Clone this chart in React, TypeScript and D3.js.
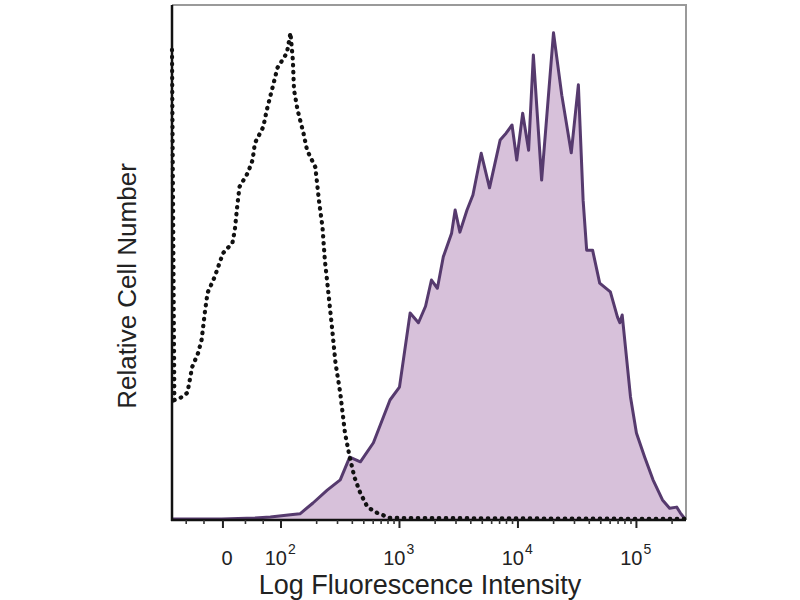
import React, { useRef, useEffect } from 'react';
import * as d3 from 'd3';

// x values are in log10 fluorescence channel units (biexponential display, "0" sits at ~1.51)
// y values are relative cell number, 0-100
const stainedX = [
  1.08, 1.5, 1.78, 1.91, 2.08, 2.16, 2.27, 2.39, 2.5, 2.58, 2.67, 2.78, 2.92, 3.0,
  3.09, 3.16, 3.22, 3.27, 3.32, 3.37, 3.44, 3.47, 3.51, 3.57, 3.62, 3.69, 3.76,
  3.85, 3.9, 3.95, 3.99, 4.04, 4.09, 4.13, 4.2, 4.3, 4.37, 4.45, 4.51, 4.55, 4.58,
  4.63, 4.69, 4.78, 4.84, 4.86, 4.88, 4.95, 5.0, 5.07, 5.14, 5.22, 5.28, 5.34,
  5.37, 5.41,
];
const stainedY = [
  0.2, 0.2, 0.4, 0.6, 1.0, 1.2, 3.3, 5.8, 7.8, 12.2, 11.3, 15.0, 23.3, 25.8,
  40.2, 38.3, 41.5, 46.6, 45.0, 51.1, 55.7, 60.2, 55.9, 60.2, 63.1, 71.2, 64.5,
  73.8, 75.1, 76.7, 69.9, 79.0, 71.8, 90.3, 66.0, 94.6, 82.5, 71.3, 84.5, 62.1, 52.4,
  52.4, 46.0, 44.3, 39.4, 38.3, 39.8, 23.9, 16.9, 12.2, 7.8, 3.9, 2.3, 2.5,
  1.4, 0.2,
];

const isotypeX = [
  1.08, 1.1, 1.15, 1.21, 1.25, 1.3, 1.33, 1.36, 1.38, 1.44, 1.51, 1.59, 1.61,
  1.63, 1.65, 1.72, 1.76, 1.78, 1.85, 1.88, 1.93, 1.97, 2.05, 2.08, 2.1, 2.11,
  2.14, 2.19, 2.22, 2.29, 2.32, 2.35, 2.37, 2.4, 2.43, 2.46, 2.5, 2.54, 2.58,
  2.62, 2.67, 2.73, 2.81, 2.92, 5.41,
];
const isotypeY = [
  91.3, 23.3, 23.7, 24.7, 29.7, 32.4, 35.0, 40.8, 44.1, 47.2, 51.8, 53.8, 56.3,
  60.8, 64.7, 67.4, 69.9, 73.2, 76.3, 79.6, 84.1, 87.8, 90.7, 94.6, 89.3, 83.5,
  79.6, 75.1, 71.8, 68.5, 62.1, 56.9, 50.5, 44.1, 37.5, 30.5, 24.7, 16.9, 12.2,
  8.3, 5.2, 2.5, 1.4, 0.4, 0.2,
];

const majorTicks = [1.51, 2, 3, 4, 5];
const tickBase = ['0', '10', '10', '10', '10'];
const tickExp = ['', '2', '3', '4', '5'];

const xTitle = 'Log Fluorescence Intensity';
const yTitle = 'Relative Cell Number';

const W = 800;
const H = 600;
const left = 172;
const right = 685;
const top = 5;
const bottom = 520;
const font = '"Liberation Sans", Arial, sans-serif';

export default function App() {
  const ref = useRef<SVGSVGElement>(null);

  useEffect(() => {
    if (!ref.current) return;
    draw(ref.current);
  }, []);

  return (
    <svg
      ref={ref}
      width={W}
      height={H}
      style={{ position: 'absolute', left: 0, top: 0, background: '#fff' }}
    />
  );
}

function draw(el: SVGSVGElement) {
  const svg = d3.select(el);
  svg.selectAll('*').remove();

  const x = d3.scaleLinear().domain([1.08, 5.41]).range([left, right]);
  const y = d3.scaleLinear().domain([0, 100]).range([bottom, top]);

  const stained = stainedX.map((v, i) => [v, stainedY[i]] as [number, number]);
  const isotype = isotypeX.map((v, i) => [v, isotypeY[i]] as [number, number]);

  // frame (light grey top / right)
  svg.append('path')
    .attr('d', `M${left},${top}H${right + 1}V${bottom}`)
    .attr('fill', 'none')
    .attr('stroke', '#9a9a9a')
    .attr('stroke-width', 2);

  // stained histogram
  const area = d3.area<[number, number]>()
    .x((d) => x(d[0]))
    .y0(y(0))
    .y1((d) => y(d[1]));
  svg.append('path')
    .datum(stained)
    .attr('d', area)
    .attr('fill', '#d7c1da');

  const line = d3.line<[number, number]>()
    .x((d) => x(d[0]))
    .y((d) => y(d[1]));
  svg.append('path')
    .datum(stained)
    .attr('d', line)
    .attr('fill', 'none')
    .attr('stroke', '#563a6e')
    .attr('stroke-width', 3)
    .attr('stroke-linejoin', 'round');

  // axes
  svg.append('line')
    .attr('x1', left).attr('x2', left)
    .attr('y1', top).attr('y2', bottom + 1)
    .attr('stroke', '#111').attr('stroke-width', 2.5);
  svg.append('line')
    .attr('x1', left - 1).attr('x2', right + 1)
    .attr('y1', bottom).attr('y2', bottom)
    .attr('stroke', '#111').attr('stroke-width', 2.5);

  // isotype control (dotted)
  svg.append('path')
    .datum(isotype)
    .attr('d', line)
    .attr('fill', 'none')
    .attr('stroke', '#111')
    .attr('stroke-width', 4.2)
    .attr('stroke-linecap', 'round')
    .attr('stroke-dasharray', '0.5 6.5');

  // minor ticks
  const minor: number[] = [];
  for (let dec = 2; dec <= 5; dec++) {
    for (let k = 2; k <= 9; k++) {
      const v = dec + Math.log10(k);
      if (v < x.domain()[1]) minor.push(v);
    }
  }
  minor.push(1.2, 1.35, 1.7, 1.85);
  svg.append('g')
    .selectAll('line')
    .data(minor)
    .join('line')
    .attr('x1', (d) => x(d)).attr('x2', (d) => x(d))
    .attr('y1', bottom).attr('y2', bottom + 4)
    .attr('stroke', '#333').attr('stroke-width', 1.6);

  svg.append('g')
    .selectAll('line')
    .data(majorTicks)
    .join('line')
    .attr('x1', (d) => x(d)).attr('x2', (d) => x(d))
    .attr('y1', bottom).attr('y2', bottom + 8)
    .attr('stroke', '#222').attr('stroke-width', 2);

  // tick labels: base and exponent as separate texts so they do not overlap
  const labels = svg.append('g')
    .attr('font-family', font)
    .attr('fill', '#222');
  majorTicks.forEach((v, i) => {
    if (!tickExp[i]) {
      labels.append('text')
        .attr('x', x(v) + 4)
        .attr('y', 565)
        .attr('text-anchor', 'middle')
        .attr('font-size', 20)
        .text(tickBase[i]);
      return;
    }
    labels.append('text')
      .attr('x', x(v) + 6)
      .attr('y', 565)
      .attr('text-anchor', 'end')
      .attr('font-size', 20)
      .text(tickBase[i]);
    labels.append('text')
      .attr('x', x(v) + 7)
      .attr('y', 554)
      .attr('text-anchor', 'start')
      .attr('font-size', 14)
      .text(tickExp[i]);
  });

  // axis titles
  svg.append('text')
    .attr('x', 420)
    .attr('y', 594)
    .attr('text-anchor', 'middle')
    .attr('font-family', font)
    .attr('font-size', 27)
    .attr('fill', '#222')
    .text(xTitle);

  svg.append('text')
    .attr('transform', `translate(136,286) rotate(-90)`)
    .attr('text-anchor', 'middle')
    .attr('font-family', font)
    .attr('font-size', 26)
    .attr('fill', '#222')
    .text(yTitle);
}
